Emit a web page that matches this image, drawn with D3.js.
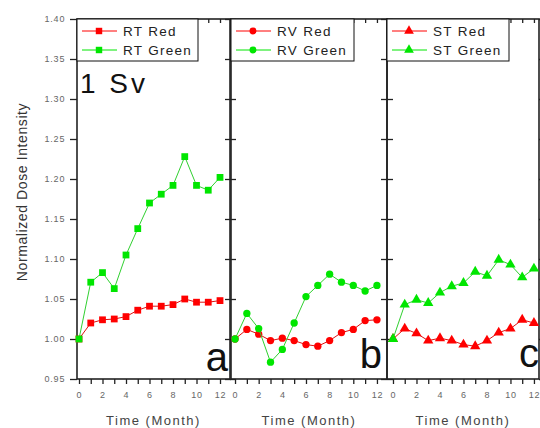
<!DOCTYPE html>
<html>
<head>
<meta charset="utf-8">
<script src="https://cdn.jsdelivr.net/npm/d3@7"></script>
<style>
  body { margin: 0; background: #fff; }
  text { font-family: "Liberation Sans", Arial, sans-serif; }
</style>
</head>
<body>
<script>
// months 0..12
const months = [0, 1, 2, 3, 4, 5, 6, 7, 8, 9, 10, 11, 12];
const monthLabels = [0, 2, 4, 6, 8, 10, 12];
const yTicks = [0.95, 1.0, 1.05, 1.1, 1.15, 1.2, 1.25, 1.3, 1.35, 1.4];

const rtRed = [1.0, 1.02, 1.024, 1.025, 1.028, 1.036, 1.041, 1.041, 1.043, 1.05, 1.046, 1.046, 1.048];
const rtGreen = [1.0, 1.071, 1.083, 1.063, 1.105, 1.138, 1.17, 1.181, 1.192, 1.228, 1.192, 1.186, 1.202];
const rvRed = [1.0, 1.012, 1.006, 0.998, 1.001, 0.998, 0.993, 0.991, 0.998, 1.008, 1.012, 1.023, 1.024];
const rvGreen = [1.0, 1.032, 1.013, 0.971, 0.987, 1.02, 1.053, 1.067, 1.081, 1.071, 1.067, 1.06, 1.067];
const stRed = [1.0, 1.013, 1.007, 0.998, 1.001, 0.998, 0.993, 0.991, 0.998, 1.008, 1.013, 1.024, 1.02];
const stGreen = [1.0, 1.043, 1.049, 1.045, 1.058, 1.066, 1.07, 1.084, 1.079, 1.099, 1.093, 1.077, 1.088];

const width = 540;
const height = 428;
const plotTop = 19, plotBottom = 379;
const red = "#ff0000", green = "#00e600";

const panels = [
  { left: 77, right: 230, dom: [-0.17, 12.85], sym: d3.symbolSquare, size: 46,
    names: ["RT Red", "RT Green"], series: [rtRed, rtGreen], tag: "a", tagX: 228, tagY: 371, legW: 121 },
  { left: 231, right: 387, dom: [-0.34, 12.85], sym: d3.symbolCircle, size: 42,
    names: ["RV Red", "RV Green"], series: [rvRed, rvGreen], tag: "b", tagX: 382, tagY: 368, legW: 123 },
  { left: 387, right: 539, dom: [-0.51, 12.43], sym: d3.symbolTriangle, size: 46,
    names: ["ST Red", "ST Green"], series: [stRed, stGreen], tag: "c", tagX: 539, tagY: 367, legW: 122 }
];

const svg = d3.select("body").append("svg")
  .attr("width", width)
  .attr("height", height);

const y = d3.scaleLinear().domain([0.95, 1.4]).range([plotBottom, plotTop]);

// y axis label
svg.append("text")
  .attr("transform", "translate(27,192) rotate(-90)")
  .attr("text-anchor", "middle")
  .attr("font-size", 14)
  .attr("letter-spacing", 0.6)
  .attr("fill", "#333")
  .text("Normalized Dose Intensity");

panels.forEach((p, i) => {
  const x = d3.scaleLinear().domain(p.dom).range([p.left, p.right]);
  const g = svg.append("g");

  // bottom ticks (every month) with labels on even months
  const xb = g.append("g")
    .attr("transform", `translate(0,${plotBottom})`)
    .call(d3.axisBottom(x).tickValues(months).tickSize(5).tickSizeOuter(0)
      .tickFormat((d) => (monthLabels.includes(d) ? d : "")));
  // top ticks inward
  const xt = g.append("g")
    .attr("transform", `translate(0,${plotTop})`)
    .call(d3.axisBottom(x).tickValues(months).tickSize(4).tickSizeOuter(0).tickFormat(""));
  // left axis ticks outward, right axis ticks inward
  const yl = g.append("g")
    .attr("transform", `translate(${p.left},0)`)
    .call(d3.axisLeft(y).tickValues(yTicks).tickSize(i === 0 ? 7 : 6).tickSizeOuter(0)
      .tickFormat(i === 0 ? d3.format(".2f") : ""));
  const yr = g.append("g")
    .attr("transform", `translate(${p.right},0)`)
    .call(d3.axisLeft(y).tickValues(yTicks).tickSize(-6).tickSizeOuter(0).tickFormat(""));

  [xb, xt, yl, yr].forEach((a) => {
    a.select(".domain").remove();
    a.selectAll("line").attr("stroke", "#222").attr("stroke-width", 1.3);
    a.selectAll("text").attr("font-size", 9).attr("fill", "#666")
      .attr("letter-spacing", 0.8)
      .style("font-family", "'Liberation Sans', Arial, sans-serif");
  });
  xb.selectAll("text").attr("dy", "1.2em");
  yl.selectAll("text").attr("dx", "-0.2em");

  // frame
  g.append("rect")
    .attr("x", p.left).attr("y", plotTop)
    .attr("width", p.right - p.left).attr("height", plotBottom - plotTop)
    .attr("fill", "none").attr("stroke", "#222").attr("stroke-width", 1.6);

  // series
  const line = d3.line().x((d, k) => x(months[k])).y((d) => y(d));
  p.series.forEach((vals, k) => {
    const col = k === 0 ? red : green;
    g.append("path")
      .datum(vals)
      .attr("d", line)
      .attr("fill", "none")
      .attr("stroke", k === 0 ? "#e01010" : "#30d030")
      .attr("stroke-width", 1);
    g.selectAll(null)
      .data(vals)
      .join("path")
      .attr("transform", (d, j) => `translate(${x(months[j])},${y(d)})`)
      .attr("d", d3.symbol(p.sym, p.size))
      .attr("fill", col);
  });

  // legend
  const lg = g.append("g").attr("transform", `translate(${p.left},${plotTop})`);
  lg.append("rect")
    .attr("width", p.legW).attr("height", 42)
    .attr("fill", "#fff").attr("stroke", "#111").attr("stroke-width", 1);
  p.names.forEach((name, k) => {
    const col = k === 0 ? red : green;
    const ly = 12 + k * 19;
    lg.append("line")
      .attr("x1", 5).attr("x2", 40).attr("y1", ly).attr("y2", ly)
      .attr("stroke", col).attr("stroke-width", 1);
    lg.append("path")
      .attr("transform", `translate(22,${ly})`)
      .attr("d", d3.symbol(p.sym, p.size * 0.9))
      .attr("fill", col);
    lg.append("text")
      .attr("x", 46).attr("y", ly + 5)
      .attr("font-size", 13.5)
      .attr("letter-spacing", 1.3)
      .attr("fill", "#222")
      .text(name);
  });

  // panel letter
  g.append("text")
    .attr("x", p.tagX).attr("y", p.tagY)
    .attr("text-anchor", "end")
    .attr("font-size", 40)
    .attr("fill", "#111")
    .text(p.tag);

  // x axis title
  g.append("text")
    .attr("x", (p.left + p.right) / 2)
    .attr("y", 425)
    .attr("text-anchor", "middle")
    .attr("font-size", 13)
    .attr("letter-spacing", 1.5)
    .attr("fill", "#444")
    .text("Time (Month)");
});

svg.append("text")
  .attr("x", 80).attr("y", 93)
  .attr("font-size", 28)
  .attr("letter-spacing", 3)
  .attr("fill", "#111")
  .text("1 Sv");
</script>
</body>
</html>
